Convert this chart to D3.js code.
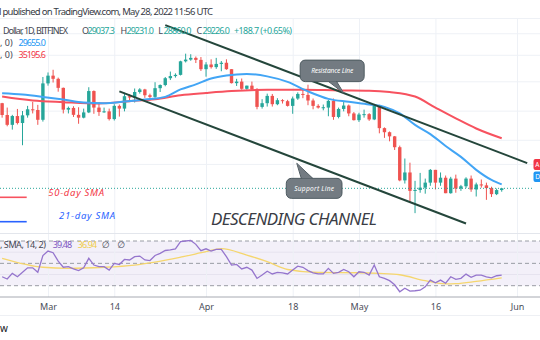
<!DOCTYPE html>
<html>
<head>
<meta charset="utf-8">
<script src="https://cdn.jsdelivr.net/npm/d3@7/dist/d3.min.js"></script>
<style>
  html, body { margin: 0; padding: 0; background: #fff; }
  svg { display: block; font-family: "Noto Sans", "DejaVu Sans", sans-serif; }
</style>
</head>
<body>
<svg id="chart" width="540" height="340"></svg>
<script>
// BTC/USD daily candles (Bitfinex)
const candleDates = [
  "2022-02-20","2022-02-21","2022-02-22","2022-02-23","2022-02-24","2022-02-25","2022-02-26","2022-02-27","2022-02-28","2022-03-01",
  "2022-03-02","2022-03-03","2022-03-04","2022-03-05","2022-03-06","2022-03-07","2022-03-08","2022-03-09","2022-03-10","2022-03-11",
  "2022-03-12","2022-03-13","2022-03-14","2022-03-15","2022-03-16","2022-03-17","2022-03-18","2022-03-19","2022-03-20","2022-03-21",
  "2022-03-22","2022-03-23","2022-03-24","2022-03-25","2022-03-26","2022-03-27","2022-03-28","2022-03-29","2022-03-30","2022-03-31",
  "2022-04-01","2022-04-02","2022-04-03","2022-04-04","2022-04-05","2022-04-06","2022-04-07","2022-04-08","2022-04-09","2022-04-10",
  "2022-04-11","2022-04-12","2022-04-13","2022-04-14","2022-04-15","2022-04-16","2022-04-17","2022-04-18","2022-04-19","2022-04-20",
  "2022-04-21","2022-04-22","2022-04-23","2022-04-24","2022-04-25","2022-04-26","2022-04-27","2022-04-28","2022-04-29","2022-04-30",
  "2022-05-01","2022-05-02","2022-05-03","2022-05-04","2022-05-05","2022-05-06","2022-05-07","2022-05-08","2022-05-09","2022-05-10",
  "2022-05-11","2022-05-12","2022-05-13","2022-05-14","2022-05-15","2022-05-16","2022-05-17","2022-05-18","2022-05-19","2022-05-20",
  "2022-05-21","2022-05-22","2022-05-23","2022-05-24","2022-05-25","2022-05-26","2022-05-27","2022-05-28","2022-05-29"
];
const opens = [
  40100,38380,37000,38230,37250,38330,39200,39100,37700,43160,
  44420,43900,42450,39150,39400,38400,38000,38750,41950,39450,
  38800,38900,37800,39700,39300,41150,40950,41800,42200,41300,
  41050,42400,42900,44000,44350,44550,46850,47150,47450,47100,
  45500,46300,45850,46400,46600,45500,43200,43450,42300,42800,
  42200,39550,40100,41200,39950,40550,40400,39700,40800,41500,
  41350,40500,39700,39450,39450,40450,38100,39250,39750,38600,
  37650,38450,38500,37750,39700,36550,36000,35450,34050,30100,
  31000,28950,29050,29300,29850,31300,29850,30400,28700,30300,
  29200,29450,30300,29100,29650,29550,29250,28600,29037.3
];
const highs = [
  40150,39450,38400,39250,38950,39700,40300,39850,44200,44950,
  45400,44100,42500,39600,39650,39500,39300,42550,42050,40250,
  39450,39300,39950,39900,41700,41450,42350,42400,42300,41550,
  43350,43000,44200,45100,44800,46950,48200,48100,47700,47600,
  46700,47200,47450,46900,47200,45500,43900,43950,42800,43450,
  42400,40700,41550,41500,40850,40700,40600,41100,41750,42200,
  42950,40800,39950,39900,40600,40800,39450,40350,39900,38800,
  38700,39150,38650,40000,39850,36650,36100,35500,34250,32650,
  32150,30050,30950,30300,31400,31300,31000,30650,30500,30750,
  29600,30450,30650,29850,30200,29850,29400,29200,29231.0
];
const lows = [
  38000,36800,36350,37050,34300,38000,38600,37000,37450,42800,
  43300,41850,38600,38600,38100,37150,37900,38650,38550,38250,
  38700,37600,37600,38150,38900,40550,40200,41550,40900,40500,
  40900,41800,42700,43700,44100,44450,46650,46950,46550,45200,
  44250,45600,45550,45150,45400,43150,42750,42150,42150,42100,
  39200,39300,39600,39600,39800,40050,39600,38550,40600,40850,
  39800,39200,39300,39050,38200,37700,37900,38900,38200,37600,
  37400,38000,37550,37650,35850,35250,34800,33700,30000,29750,
  27750,26650,28750,28650,29500,29100,29500,28700,28650,28750,
  28950,29250,28850,28350,29300,28000,28300,28500,28860.0
];
const closes = [
  38380,37000,38230,37250,38330,39200,39100,37700,43160,44420,
  43900,42450,39150,39400,38400,38000,38750,41950,39450,38800,
  38900,37800,39700,39300,41150,40950,41800,42200,41300,41050,
  42400,42900,44000,44350,44550,46850,47150,47450,47100,45500,
  46300,45850,46400,46600,45500,43200,43450,42300,42800,42200,
  39550,40100,41200,39950,40550,40400,39700,40800,41500,41350,
  40500,39700,39450,39500,40450,38100,39250,39750,38600,37650,
  38450,38500,37750,39700,36550,36000,35450,34050,30100,31000,
  28950,29050,29300,29850,31300,29850,30400,28700,30300,29200,
  29450,30300,29100,29650,29550,29250,28600,29037.3,29226.0
];

// 21-day and 50-day simple moving averages
const sma21Dates = ["2022-02-20","2022-02-24","2022-02-28","2022-03-04","2022-03-08","2022-03-12","2022-03-16","2022-03-20","2022-03-24","2022-03-27","2022-03-30","2022-04-02","2022-04-05","2022-04-09","2022-04-13","2022-04-17","2022-04-21","2022-04-25","2022-04-29","2022-05-03","2022-05-06","2022-05-09","2022-05-12","2022-05-15","2022-05-18","2022-05-21","2022-05-24","2022-05-27","2022-05-29"];
const sma21Values = [41600,41400,41050,40650,40200,40100,40350,40650,41050,42200,43000,43950,44450,44700,44300,43400,41900,40750,40300,39900,39550,38600,37000,35750,34200,32850,31300,30150,29655.0];
const sma50Dates = ["2022-02-20","2022-02-26","2022-03-04","2022-03-11","2022-03-17","2022-03-22","2022-03-27","2022-04-01","2022-04-06","2022-04-13","2022-04-20","2022-04-27","2022-05-03","2022-05-07","2022-05-12","2022-05-16","2022-05-20","2022-05-24","2022-05-29"];
const sma50Values = [41100,40500,40250,40050,40400,40700,41300,41650,41950,42150,42150,42050,42000,41800,41100,39450,37900,36500,35195.6];

// RSI (14) and its 14-period SMA
const rsiValues = [
  38,36,41,38,42,46,46,42,57,61,
  59.5,52,46.5,47,45,43.5,46,54.5,48.5,47,
  47,44,50,49,53.5,53,56,56.5,53,52.5,
  57,59,61.5,62,63,69.5,70,70.5,67,61.3,
  63,61,62.5,62.5,56,48.5,49,45,46.5,44,
  36.5,39.5,43,40.5,42,41.5,40.5,44,47.5,46.5,
  43.5,41.5,40.5,40.5,45.5,41,42,44.5,42.5,38,
  42.5,42,39.5,48.5,38,36.6,34.5,30.8,24.6,27.8,
  25.2,25.5,26,29,35,32.6,35,32.2,38,35.7,
  36.6,40.4,37.5,39.5,39.5,38,37,38.9,39.48
];
const rsiMaDates = ["2022-02-20","2022-02-28","2022-03-05","2022-03-12","2022-03-18","2022-03-27","2022-04-01","2022-04-04","2022-04-09","2022-04-13","2022-04-17","2022-04-23","2022-05-01","2022-05-05","2022-05-09","2022-05-14","2022-05-18","2022-05-20","2022-05-24","2022-05-29"];
const rsiMaValues = [54.5,46.5,45.5,46.5,48.5,55.5,60.4,63.2,57.4,51.5,44.5,41.8,41.6,41,39.8,34.5,31.6,31.8,33.8,36.94];

// Trend line anchors (date, price)
const resistanceDates = ["2022-03-24","2022-06-03"];
const resistancePrices = [53600, 32100];
const supportDates = ["2022-03-15","2022-05-22"];
const supportPrices = [41900, 25650];

// Axis ticks and grid
const tickDates = ["2022-03-01","2022-03-14","2022-04-01","2022-04-18","2022-05-01","2022-05-16","2022-06-01"];
const tickLabels = ["Mar","14","Apr","18","May","16","Jun"];
const gridPrices = [52000, 48000, 43500, 39000, 35000, 32000];
const rsiLevels = [70, 50, 30];
const rsiGridLevels = [60, 40];
const lastPrice = 29226.0;

const W = 540, H = 340;
const GREEN = "#26a69a", RED = "#ef5350";
const svg = d3.select("#chart");
svg.append("rect").attr("width", W).attr("height", H).attr("fill", "#fff");

const parse = s => new Date(s + "T00:00:00Z");
const x = d3.scaleUtc().domain([parse("2022-03-01"), parse("2022-06-01")]).range([48, 517]);
const y = d3.scaleLog().domain([26000, 50000]).range([219.8, 43.8]);
const yr = d3.scaleLinear().domain([30, 70]).range([285.7, 241]);

// ---- grid ----
svg.append("line").attr("x1", 0).attr("x2", W).attr("y1", 18.5).attr("y2", 18.5).attr("stroke", "#eef1f6");
const priceGrid = svg.append("g").attr("transform", `translate(${W},0)`)
  .call(d3.axisRight(y).tickValues(gridPrices).tickSize(-W).tickFormat(""));
priceGrid.select(".domain").remove();
priceGrid.selectAll(".tick line").attr("stroke", "#eef1f6");

// RSI pane band and levels
svg.append("rect").attr("x", 0).attr("width", W)
  .attr("y", yr(70)).attr("height", yr(30) - yr(70))
  .attr("fill", "#7e57c2").attr("fill-opacity", 0.09);
svg.selectAll(".rsigrid").data(rsiGridLevels).enter().append("line")
  .attr("x1", 0).attr("x2", W).attr("y1", d => yr(d)).attr("y2", d => yr(d))
  .attr("stroke", "#e6e3ef");

// vertical grid + date labels
const xAxis = svg.append("g").attr("transform", "translate(0,297)")
  .call(d3.axisBottom(x).tickValues(tickDates.map(parse))
    .tickFormat((d, i) => tickLabels[i]).tickSize(-279).tickSizeOuter(0).tickPadding(6.5));
xAxis.select(".domain").remove();
xAxis.selectAll(".tick line").attr("stroke", "#eef1f6");
xAxis.selectAll(".tick text").attr("font-size", 9).attr("fill", "#4a4e59")
  .attr("font-family", "'Noto Sans', sans-serif");

svg.selectAll(".rsilevel").data(rsiLevels).enter().append("line")
  .attr("x1", 0).attr("x2", W).attr("y1", d => yr(d)).attr("y2", d => yr(d))
  .attr("stroke", "#8f929b").attr("stroke-dasharray", "4,3").attr("stroke-width", 0.9);

// pane separators and time-axis border
svg.append("line").attr("x1", 0).attr("x2", W).attr("y1", 233.5).attr("y2", 233.5).attr("stroke", "#e3e6ec");
svg.append("line").attr("x1", 0).attr("x2", W).attr("y1", 297).attr("y2", 297).attr("stroke", "#a7aab2").attr("stroke-width", 1);
svg.append("line").attr("x1", 0).attr("x2", W).attr("y1", 315.5).attr("y2", 315.5).attr("stroke", "#eef0f4");

// ---- candles ----
const candles = candleDates.map((d, i) => ({
  date: parse(d), o: opens[i], h: highs[i], l: lows[i], c: closes[i]
}));
const cg = svg.append("g");
const bodyW = 3.4;
cg.selectAll(".wick").data(candles).enter().append("line")
  .attr("x1", d => x(d.date)).attr("x2", d => x(d.date))
  .attr("y1", d => y(d.h)).attr("y2", d => y(d.l))
  .attr("stroke", d => d.c >= d.o ? GREEN : RED).attr("stroke-width", 1);
cg.selectAll(".body").data(candles).enter().append("rect")
  .attr("x", d => x(d.date) - bodyW / 2).attr("width", bodyW)
  .attr("y", d => y(Math.max(d.o, d.c)))
  .attr("height", d => Math.max(1, Math.abs(y(d.o) - y(d.c))))
  .attr("fill", d => d.c >= d.o ? GREEN : RED);

// ---- moving averages ----
const smaLine = d3.line().x(d => x(d.date)).y(d => y(d.v)).curve(d3.curveMonotoneX);
const sma50 = sma50Dates.map((d, i) => ({ date: parse(d), v: sma50Values[i] }));
const sma21 = sma21Dates.map((d, i) => ({ date: parse(d), v: sma21Values[i] }));
svg.append("path").attr("d", smaLine(sma50)).attr("fill", "none")
  .attr("stroke", "#f7525f").attr("stroke-width", 2);
svg.append("path").attr("d", smaLine(sma21)).attr("fill", "none")
  .attr("stroke", "#42a5f5").attr("stroke-width", 2);

// last price line
svg.append("line").attr("x1", 0).attr("x2", 532)
  .attr("y1", y(lastPrice)).attr("y2", y(lastPrice))
  .attr("stroke", GREEN).attr("stroke-width", 1).attr("stroke-dasharray", "1,2");

// ---- channel lines ----
const TL = "#24463b";
function trendPoints(dates, prices) {
  return dates.map((d, i) => [x(parse(d)), y(prices[i])]);
}
const resPts = trendPoints(resistanceDates, resistancePrices);
const supPts = trendPoints(supportDates, supportPrices);
[resPts, supPts].forEach(p => {
  svg.append("line").attr("x1", p[0][0]).attr("y1", p[0][1]).attr("x2", p[1][0]).attr("y2", p[1][1])
    .attr("stroke", TL).attr("stroke-width", 2);
});
function pointOn(p, date) {
  const xx = x(parse(date));
  const t = (xx - p[0][0]) / (p[1][0] - p[0][0]);
  return [xx, p[0][1] + t * (p[1][1] - p[0][1])];
}

// ---- callouts ----
function callout(tip, box, base, label, textW) {
  const g = svg.append("g");
  g.append("path")
    .attr("d", `M${base[0][0]},${base[0][1]}L${tip[0]},${tip[1]}L${base[1][0]},${base[1][1]}Z`)
    .attr("fill", "#737b82").attr("stroke", "#4d5a60").attr("stroke-width", 1);
  g.append("rect").attr("x", box[0]).attr("y", box[1]).attr("width", box[2]).attr("height", box[3])
    .attr("rx", 5).attr("fill", "#737b82").attr("stroke", "#4d5a60").attr("stroke-width", 1);
  g.append("path")
    .attr("d", `M${base[0][0] + 0.8},${base[0][1]}L${tip[0]},${tip[1]}L${base[1][0] - 0.8},${base[1][1]}`)
    .attr("fill", "#737b82").attr("stroke", "none");
  g.append("text").attr("x", box[0] + box[2] / 2).attr("y", box[1] + box[3] / 2 + 2.3)
    .attr("text-anchor", "middle").attr("font-size", 6.6).attr("font-style", "italic")
    .attr("fill", "#fff").attr("textLength", textW).text(label);
}
const rTip = pointOn(resPts, "2022-04-28");
const rBox = [rTip[0] - 43.5, rTip[1] - 33, 64, 21.5];
callout(rTip, rBox, [[rTip[0] - 15, rBox[1] + rBox[3]], [rTip[0] - 7, rBox[1] + rBox[3]]], "Resistance Line", 42);
const sTip = pointOn(supPts, "2022-04-19");
const sBox = [sTip[0] - 11.5, sTip[1] + 19, 55.7, 20];
callout([sTip[0] - 1, sTip[1] + 4], sBox, [[sTip[0] + 3.5, sBox[1]], [sTip[0] + 15, sBox[1]]], "Support Line", 40);

// ---- annotations ----
svg.append("text").attr("x", 211).attr("y", 224.5).attr("font-size", 17).attr("font-style", "italic")
  .attr("fill", "#3a3d45").attr("textLength", 166).text("DESCENDING CHANNEL");
svg.append("line").attr("x1", 0).attr("x2", 26.7).attr("y1", 197.3).attr("y2", 197.3)
  .attr("stroke", "#f7525f").attr("stroke-width", 1.6);
svg.append("text").attr("x", 48.3).attr("y", 196.3).attr("font-size", 9.5).attr("font-style", "italic")
  .attr("fill", "#f23645").attr("textLength", 55.7).text("50-day SMA");
svg.append("line").attr("x1", 0).attr("x2", 26.7).attr("y1", 221.7).attr("y2", 221.7)
  .attr("stroke", "#2962ff").attr("stroke-width", 1.6);
svg.append("text").attr("x", 59).attr("y", 218.6).attr("font-size", 9.5).attr("font-style", "italic")
  .attr("fill", "#2962ff").attr("textLength", 56).text("21-day SMA");

// price-scale labels at the right edge
svg.append("rect").attr("x", 533.5).attr("y", 159).attr("width", 12).attr("height", 11).attr("rx", 2).attr("fill", "#f23645");
svg.append("rect").attr("x", 533.5).attr("y", 171.5).attr("width", 12).attr("height", 10.5).attr("rx", 2).attr("fill", "#2196f3");
svg.append("text").attr("x", 535.3).attr("y", 167).attr("font-size", 6.5).attr("fill", "#fff").text("A");
svg.append("text").attr("x", 535.3).attr("y", 179.3).attr("font-size", 6.5).attr("fill", "#fff").text("D");

// ---- RSI ----
const rsiPts = candleDates.map((d, i) => ({ date: parse(d), v: rsiValues[i] }));
const rsiMaPts = rsiMaDates.map((d, i) => ({ date: parse(d), v: rsiMaValues[i] }));
svg.append("path").attr("d", d3.line().x(d => x(d.date)).y(d => yr(d.v)).curve(d3.curveMonotoneX)(rsiMaPts))
  .attr("fill", "none").attr("stroke", "#f5d66e").attr("stroke-width", 1.3);
svg.append("path").attr("d", d3.line().x(d => x(d.date)).y(d => yr(d.v))(rsiPts))
  .attr("fill", "none").attr("stroke", "#9575cd").attr("stroke-width", 1.3);

// ---- header legends ----
function txt(xx, yy, s, color, size, len) {
  const t = svg.append("text").attr("x", xx).attr("y", yy).attr("font-size", size || 9)
    .attr("fill", color).text(s);
  if (len) t.attr("textLength", len);
  return t;
}
txt(-1, 14.5, "l published on TradingView.com, May 28, 2022 11:56 UTC", "#363a45", 9.5, 214);
txt(3, 33.5, "Dollar, 1D, BITFINEX", "#434651", 9, 65);
txt(82, 33.5, "O", "#434651", 9); txt(87.5, 33.5, "29037.3", GREEN, 9, 27.5);
txt(120.5, 33.5, "H", "#434651", 9); txt(126.5, 33.5, "29231.0", GREEN, 9, 27.5);
txt(158.3, 33.5, "L", "#434651", 9); txt(163.5, 33.5, "28860.0", GREEN, 9, 28);
txt(196.5, 33.5, "C", "#434651", 9); txt(202.5, 33.5, "29226.0", GREEN, 9, 27.5);
txt(234, 33.5, "+188.7 (+0.65%)", GREEN, 9, 58);
txt(0, 45.5, ", 0)", "#434651", 9); txt(18.5, 45.5, "29655.0", "#2196f3", 9, 27.5);
txt(0, 57.5, ", 0)", "#434651", 9); txt(18.5, 57.5, "35195.6", "#f23645", 9, 27.5);
txt(0, 248.3, ", SMA, 14, 2)", "#434651", 9, 46);
txt(52.7, 248.3, "39.48", "#7e57c2", 9, 19.5);
txt(77.7, 248.3, "36.94", "#f0cc4a", 9, 19.5);
txt(102, 248.3, "\u2205", "#434651", 9);
txt(117.5, 248.3, "\u2205", "#434651", 9);
txt(0, 331.5, "w", "#131722", 10);
</script>
</body>
</html>
